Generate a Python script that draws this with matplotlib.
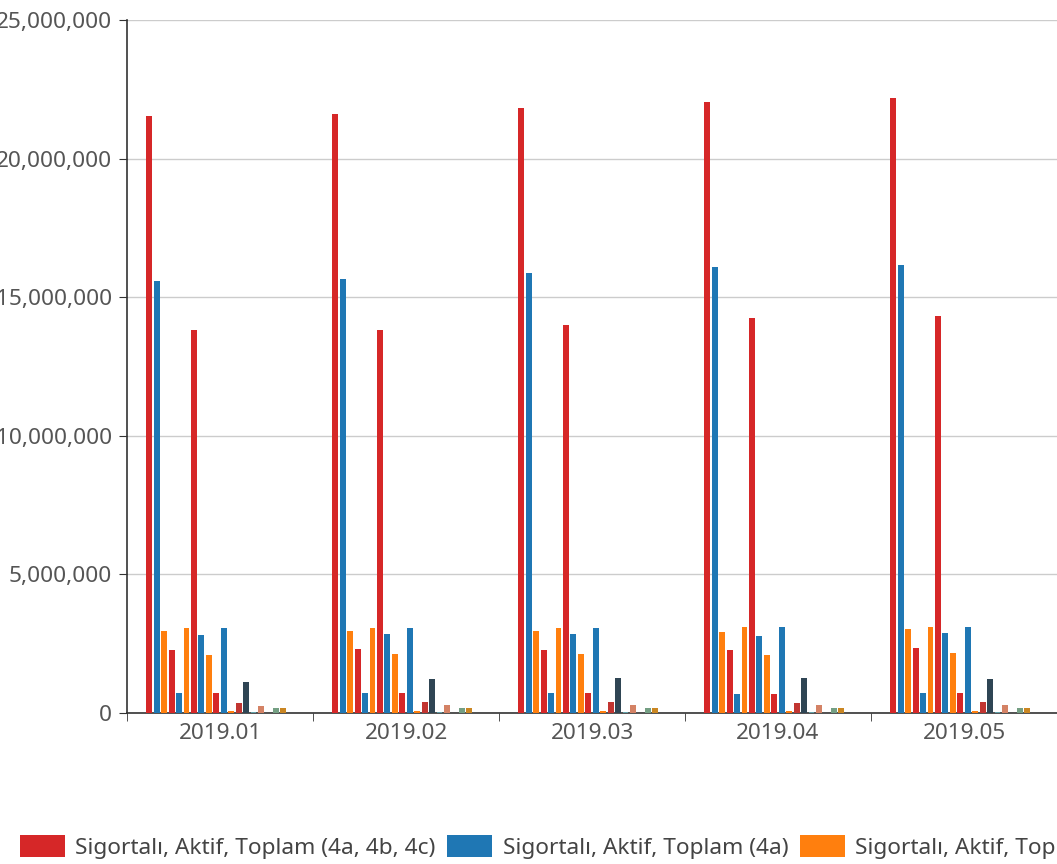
import matplotlib.pyplot as plt
import numpy as np
from matplotlib.ticker import FuncFormatter

plt.rcParams['font.family'] = ['Noto Sans', 'DejaVu Sans']

months = ['2019.01', '2019.02', '2019.03', '2019.04', '2019.05']

series_names = [
    'Sigortalı, Aktif, Toplam (4a, 4b, 4c)',
    'Sigortalı, Aktif, Toplam (4a)',
    'Sigortalı, Aktif, Toplam (4b)',
    'Sigortalı, Aktif, Toplam (4c)',
    'Sigortalı, Aktif, Zorunlu (4a)',
    'Sigortalı, Aktif, Bağ-Kur (4b)',
    'Sigortalı, Aktif, Erkek (4a, 4b, 4c)',
    'Sigortalı, Aktif, Erkek (4a)',
    'Sigortalı, Aktif, Erkek (4b)',
    'Sigortalı, Aktif, Kadın (4a, 4b, 4c)',
    'Sigortalı, Aktif, Kadın (4a)',
    'Sigortalı, Aktif, Kadın (4b)',
    'Sigortalı, Aktif, Çırak (4a)',
    'Sigortalı, Aktif, Tarım (4a)',
    'Sigortalı, Aktif, Tarım (4b)',
    'Sigortalı, Aktif, İsteğe Bağlı',
    'Sigortalı, Aktif, Stajyer',
    'Sigortalı, Aktif, Kısmi Süreli',
    'Sigortalı, Aktif, Diğer',
    'Sigortalı, Aktif, Yurt Dışı',
]

colors = ['#d62728', '#1f77b4', '#ff7f0e'] * 4 + [
    '#c23531', '#2f4554', '#61a0a8', '#d48265', '#91c7ae',
    '#749f83', '#ca8622', '#bda29a']

# values per series, one per month
values = [
    [21540000, 21610000, 21830000, 22040000, 22190000],
    [15580000, 15660000, 15870000, 16090000, 16160000],
    [2960000, 2970000, 2960000, 2930000, 3020000],
    [2270000, 2300000, 2270000, 2270000, 2330000],
    [720000, 710000, 710000, 700000, 710000],
    [3070000, 3080000, 3080000, 3090000, 3090000],
    [13820000, 13820000, 14000000, 14250000, 14320000],
    [2810000, 2840000, 2840000, 2790000, 2890000],
    [2090000, 2130000, 2140000, 2100000, 2150000],
    [720000, 710000, 710000, 700000, 710000],
    [3070000, 3080000, 3080000, 3090000, 3090000],
    [80000, 80000, 80000, 80000, 80000],
    [360000, 390000, 390000, 370000, 390000],
    [1120000, 1220000, 1270000, 1270000, 1230000],
    [20000, 20000, 20000, 20000, 20000],
    [250000, 280000, 280000, 280000, 280000],
    [0, 0, 0, 0, 0],
    [180000, 190000, 190000, 180000, 190000],
    [180000, 190000, 190000, 180000, 190000],
    [0, 0, 0, 0, 0],
]

fig = plt.figure(figsize=(10.57, 8.64), dpi=100)
ax = fig.add_axes([127 / 1057, 1 - 713 / 864, 930 / 1057, 693 / 864])

x = np.arange(len(months))
n = len(values)
pitch = 0.04
for j, vals in enumerate(values):
    ax.bar(x + (j - (n - 1) / 2) * pitch, vals, width=0.032,
           color=colors[j], label=series_names[j], zorder=3)

ax.set_xlim(-0.5, len(months) - 0.5)
ax.set_ylim(0, 25000000)
ax.set_yticks(np.arange(0, 25000001, 5000000))
ax.yaxis.set_major_formatter(FuncFormatter(lambda v, p: f'{int(v):,}'))
ax.grid(axis='y', color='#cccccc', linewidth=1, zorder=0)

ax.set_xticks(x)
ax.set_xticklabels(months)
ax.set_xticks(np.arange(-0.5, len(months)), minor=True)
ax.tick_params(axis='x', which='major', length=0, pad=7,
               labelsize=16.2, labelcolor='#555555')
ax.tick_params(axis='x', which='minor', length=6, color='#333333')
ax.tick_params(axis='y', length=6, pad=5, color='#333333',
               labelsize=16.3, labelcolor='#555555')

for side in ['top', 'right']:
    ax.spines[side].set_visible(False)
for side in ['left', 'bottom']:
    ax.spines[side].set_color('#333333')
    ax.spines[side].set_linewidth(1.2)

fig.legend(loc='lower left', bbox_to_anchor=(20 / 1057, 5 / 864), ncol=n,
           frameon=False, fontsize=16.3, labelcolor='#444444',
           handlelength=2.0, handleheight=1.1, handletextpad=0.45,
           columnspacing=0.5, borderaxespad=0, borderpad=0)

fig.savefig('out.png', dpi=100)
